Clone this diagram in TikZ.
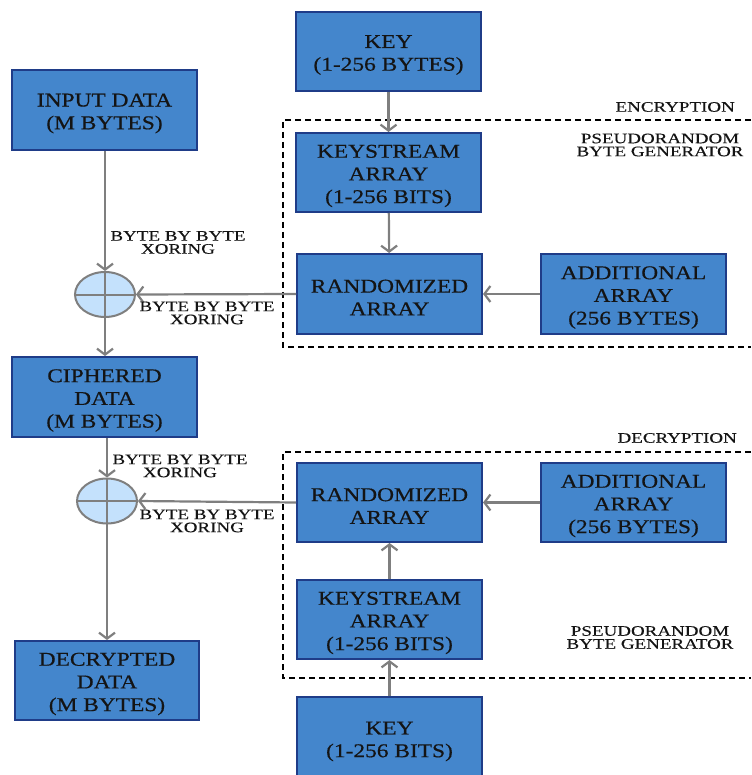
\documentclass[tikz,border=0pt]{standalone}
\usepackage{fontspec}
\usetikzlibrary{arrows.meta,shapes.geometric}
\setmainfont{Liberation Serif}
\newfontfamily\boxfont[FakeStretch=1.2,FakeBold=0.5]{Liberation Serif}
\newfontfamily\lblfont[FakeStretch=1.31,FakeBold=0.3]{Liberation Serif}
\definecolor{boxfill}{HTML}{4486CC}
\definecolor{boxline}{HTML}{1F3C88}
\definecolor{txtdark}{HTML}{141414}
\definecolor{wire}{HTML}{7F7F7F}
\definecolor{xorfill}{HTML}{C4E1FC}
\tikzset{
  blk/.style={draw=boxline, fill=boxfill, line width=2pt, minimum width=185pt,
    minimum height=80pt, inner sep=0pt},
  boxtxt/.style={inner sep=0pt, align=center, text=txtdark,
    font=\boxfont\fontsize{19.5}{22.7}\selectfont},
  xorop/.style={ellipse, draw=wire, fill=xorfill, line width=2pt,
    minimum width=60pt, minimum height=45pt, inner sep=0pt},
  arr/.style={draw=wire, line width=2.2pt,
    -{Straight Barb[length=6pt,width=16pt]}},
  lbl/.style={inner sep=0pt, align=center, text=txtdark,
    font=\lblfont\fontsize{14.5}{13}\selectfont},
  grp/.style={draw=black, line width=2.2pt, dash pattern=on 6pt off 4pt}
}
% box with its caption set slightly below the geometric centre
\newcommand\blockbox[5][]{%
  \node[blk,#1] (#2) at (#3) {};
  \node[boxtxt] (#2-t) at ([yshift=-3.5pt]#2.center) {#5};}
\begin{document}
\begin{tikzpicture}[x=1pt,y=-1pt]
\useasboundingbox (0,0) rectangle (751,775);

% dashed group frames (open to the right)
\draw[grp] (751,120) -- (283,120) -- (283,347) -- (751,347);
\draw[grp] (751,452) -- (283,452) -- (283,678) -- (751,678);

% encryption side
\blockbox{inp}{104.5,110}{}{INPUT DATA\\(M BYTES)}
\blockbox[minimum height=79pt]{key1}{388.5,51.5}{}{KEY\\(1-256 BYTES)}
\blockbox[minimum height=79pt]{ks1}{388.5,172.5}{}{KEYSTREAM\\ARRAY\\(1-256 BITS)}
\blockbox{rnd1}{389.5,294}{}{RANDOMIZED\\ARRAY}
\blockbox{add1}{633.5,294}{}{ADDITIONAL\\ARRAY\\(256 BYTES)}
\blockbox{ciph}{104.5,397}{}{CIPHERED\\DATA\\(M BYTES)}
\node[xorop] (x1) at (105,294.5) {};
\draw[wire, line width=2pt] (x1.north) -- (x1.south) (x1.west) -- (x1.east);

% decryption side
\blockbox[minimum height=79pt]{rnd2}{389.5,502.5}{}{RANDOMIZED\\ARRAY}
\blockbox[minimum height=79pt]{add2}{633.5,502.5}{}{ADDITIONAL\\ARRAY\\(256 BYTES)}
\blockbox[minimum height=79pt]{ks2}{389.5,619.5}{}{KEYSTREAM\\ARRAY\\(1-256 BITS)}
\node[blk, minimum height=82pt] (key2) at (389.5,738) {};
\node[boxtxt] (key2-t) at (389.5,741.5) {KEY\\(1-256 BITS)};
\blockbox[minimum width=184pt, minimum height=79pt]{dec}{107,680.5}{}{DECRYPTED\\DATA\\(M BYTES)}
\node[xorop] (x2) at (107,501) {};
\draw[wire, line width=2pt] (x2.north) -- (x2.south) (x2.west) -- (x2.east);

% connectors
\draw[arr] (x1.north |- inp.south) -- (x1.north);
\draw[arr] (rnd1.west) -- (x1.east);
\draw[arr] (x1.south) -- (x1.south |- ciph.north);
\draw[arr] (key1) -- (ks1);
\draw[arr] (ks1) -- (rnd1);
\draw[arr] (add1) -- (rnd1);
\draw[arr] (x2.north |- ciph.south) -- (x2.north);
\draw[arr] (rnd2.west) -- (x2.east);
\draw[arr] (x2.south) -- (x2.south |- dec.north);
\draw[arr] (key2) -- (ks2);
\draw[arr] (ks2) -- (rnd2);
\draw[arr] (add2) -- (rnd2);

% labels
\node[lbl] (l1) at (178,242.5) {BYTE BY BYTE\\XORING};
\node[lbl] (l2) at (207,313) {BYTE BY BYTE\\XORING};
\node[lbl] (l3) at (180,466) {BYTE BY BYTE\\XORING};
\node[lbl] (l4) at (207,521) {BYTE BY BYTE\\XORING};
\node[lbl, anchor=east] (enc) at (735,107) {ENCRYPTION};
\node[lbl] (pg1) at (660,145) {PSEUDORANDOM\\BYTE GENERATOR};
\node[lbl, anchor=east] (decl) at (737,438) {DECRYPTION};
\node[lbl] (pg2) at (650,637.5) {PSEUDORANDOM\\BYTE GENERATOR};
\end{tikzpicture}
\end{document}
